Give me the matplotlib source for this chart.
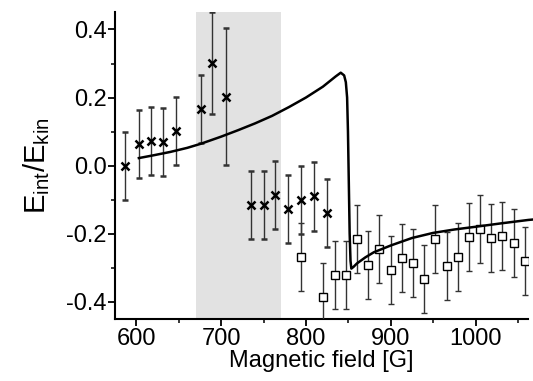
import matplotlib
matplotlib.use("Agg")
import matplotlib.pyplot as plt
from matplotlib.ticker import MultipleLocator

plt.rcParams['font.family'] = ['Liberation Sans', 'DejaVu Sans']
plt.rcParams['mathtext.fontset'] = 'custom'
plt.rcParams['mathtext.rm'] = 'Liberation Sans'

# data points below the resonance (crosses)
x_cross = [587, 603, 617, 632, 647, 676, 689, 706, 735, 750, 764, 779, 794, 809, 825]
y_cross = [0.0, 0.064, 0.071, 0.069, 0.103, 0.166, 0.301, 0.203, -0.116, -0.116,
           -0.086, -0.127, -0.101, -0.091, -0.14]
e_cross = [0.1, 0.1, 0.1, 0.1, 0.1, 0.1, 0.15, 0.2, 0.1, 0.1, 0.1, 0.1, 0.1, 0.1, 0.1]

# data points (squares)
x_sq = [794, 820, 834, 847, 860, 873, 886, 900, 913, 926, 939, 952, 966, 979,
        992, 1005, 1018, 1031, 1045, 1058]
y_sq = [-0.27, -0.387, -0.321, -0.321, -0.216, -0.293, -0.246, -0.307, -0.273,
        -0.287, -0.333, -0.216, -0.295, -0.27, -0.209, -0.187, -0.212, -0.207,
        -0.228, -0.282]
e_sq = [0.1] * len(x_sq)

# theory curve
x_th = [603, 620, 640, 660, 676, 700, 720, 740, 760, 780, 800, 820, 835, 841,
        845, 847, 848.5, 849.5, 850.5, 851.5, 852.5, 853.5, 856, 860, 870, 880,
        900, 925, 950, 975, 1000, 1030, 1062, 1075]
y_th = [0.022, 0.03, 0.04, 0.052, 0.064, 0.085, 0.104, 0.124, 0.146, 0.172, 0.2,
        0.232, 0.262, 0.273, 0.265, 0.245, 0.2, 0.1, -0.05, -0.2, -0.28, -0.303,
        -0.298, -0.288, -0.27, -0.255, -0.235, -0.213, -0.198, -0.188, -0.18,
        -0.17, -0.16, -0.157]

shade = (670, 770)

fig = plt.figure(figsize=(5.33, 3.81), dpi=100)
ax = fig.add_axes([0.216, 0.162, 0.775, 0.807])

ax.axvspan(shade[0], shade[1], color='#e2e2e2', lw=0, zorder=0)

ax.errorbar(x_cross, y_cross, yerr=e_cross, fmt='x', color='black', ms=6, mew=1.8,
            ecolor='#333333', elinewidth=1, capsize=2.5, capthick=1, zorder=3)
ax.errorbar(x_sq, y_sq, yerr=e_sq, fmt='s', mfc='white', mec='black', ms=5.5,
            mew=1, ecolor='#333333', elinewidth=1, capsize=2.5, capthick=1,
            zorder=3)
ax.plot(x_th, y_th, color='black', lw=1.8, zorder=4, clip_on=False)

ax.set_xlim(575, 1062)
ax.set_ylim(-0.452, 0.452)
ax.xaxis.set_major_locator(MultipleLocator(100))
ax.xaxis.set_minor_locator(MultipleLocator(50))
ax.yaxis.set_major_locator(MultipleLocator(0.2))
ax.yaxis.set_minor_locator(MultipleLocator(0.1))
ax.yaxis.set_major_formatter(plt.FuncFormatter(lambda v, p: '%.1f' % v))

for s in ['top', 'right']:
    ax.spines[s].set_visible(False)
for s in ['left', 'bottom']:
    ax.spines[s].set_linewidth(1.5)

ax.tick_params(which='major', direction='out', length=5, width=1.3,
               labelsize=17, pad=1)
ax.tick_params(which='minor', direction='out', length=3, width=1.1)

ax.set_xlabel('Magnetic field [G]', fontsize=17, labelpad=0)
ax.set_ylabel(r'$\mathregular{E_{int}/E_{kin}}$', fontsize=21, labelpad=10)

fig.savefig('out.png', dpi=100)
